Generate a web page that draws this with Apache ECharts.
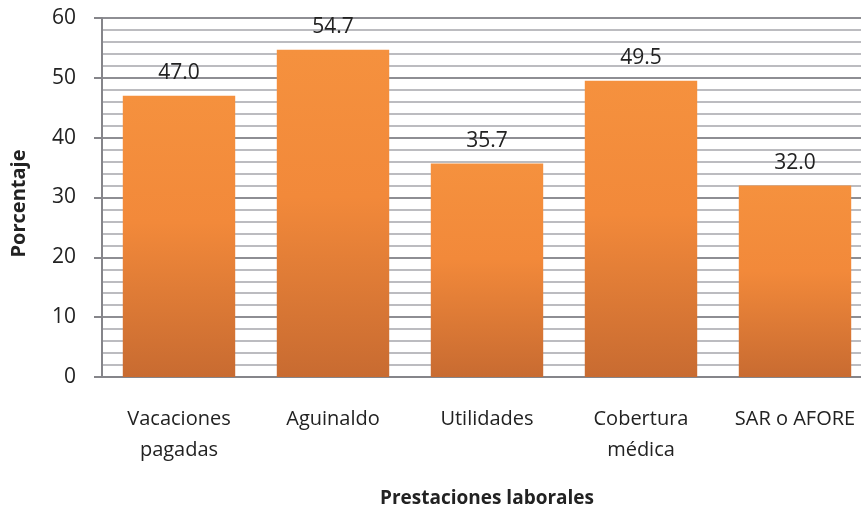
<!DOCTYPE html>
<html>
<head>
<meta charset="utf-8">
<script src="https://cdn.jsdelivr.net/npm/echarts@6/dist/echarts.min.js"></script>
<style>html,body{margin:0;padding:0;background:#fff;overflow:hidden;}#c{width:861px;height:507px;}</style>
</head>
<body>
<div id="c"></div>
<script>
const categories = ['Vacaciones\npagadas', 'Aguinaldo', 'Utilidades', 'Cobertura\nmédica', 'SAR o AFORE'];
const values = [47.0, 54.7, 35.7, 49.5, 32.0];
const yTicks = [0, 10, 20, 30, 40, 50, 60];
const xAxisTitle = 'Prestaciones laborales';
const yAxisTitle = 'Porcentaje';

const FONT = '"Open Sans", "Liberation Sans", sans-serif';
const chart = echarts.init(document.getElementById('c'), null, {renderer: 'canvas'});
chart.setOption({
  animation: false,
  backgroundColor: '#fff',
  grid: {left: 102, top: 18, width: 770, height: 359, outerBoundsMode: 'none', containLabel: false},
  xAxis: {
    type: 'category',
    data: categories,
    name: xAxisTitle,
    nameLocation: 'middle',
    nameGap: 112,
    nameTextStyle: {fontFamily: FONT, fontSize: 19, fontWeight: 'bold', color: '#222'},
    axisLine: {lineStyle: {color: '#85858a', width: 2}},
    axisTick: {show: false},
    axisLabel: {fontFamily: FONT, fontSize: 20, color: '#222', margin: 27, lineHeight: 31, interval: 0}
  },
  yAxis: {
    type: 'value',
    min: yTicks[0],
    max: yTicks[yTicks.length - 1],
    interval: 10,
    name: yAxisTitle,
    nameLocation: 'middle',
    nameGap: 73,
    nameTextStyle: {fontFamily: FONT, fontSize: 20, fontWeight: 'bold', color: '#222', padding: [0, 12, 0, 0]},
    axisLine: {show: true, lineStyle: {color: '#85858a', width: 2}},
    axisTick: {show: true, length: 8, lineStyle: {color: '#85858a', width: 2}},
    axisLabel: {fontFamily: FONT, fontSize: 21, color: '#222', margin: 26},
    splitLine: {show: true, lineStyle: {color: '#8e8e93', width: 2}},
    minorTick: {show: false, splitNumber: 5},
    minorSplitLine: {show: true, lineStyle: {color: '#bcbcc0', width: 2}}
  },
  series: [{
    type: 'bar',
    data: values,
    barCategoryGap: '27%',
    itemStyle: {
      color: new echarts.graphic.LinearGradient(0, 0, 0, 1, [
        {offset: 0, color: '#F5913E'},
        {offset: 0.45, color: '#F2893A'},
        {offset: 1, color: '#C86B31'}
      ])
    },
    label: {
      show: true, position: 'top', distance: 12,
      fontFamily: FONT, fontSize: 21, color: '#222',
      formatter: p => p.value.toFixed(1)
    }
  }]
});
</script>
</body>
</html>
